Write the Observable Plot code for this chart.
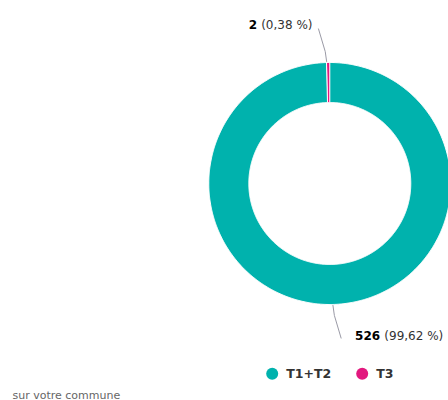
<!DOCTYPE html>
<html>
<head>
<meta charset="utf-8">
<script src="https://cdn.jsdelivr.net/npm/d3@7"></script>
<script src="https://cdn.jsdelivr.net/npm/@observablehq/plot@0.6"></script>
<style>
  html, body { margin: 0; padding: 0; background: #fff; }
  #chart { width: 448px; height: 400px; overflow: hidden; }
</style>
</head>
<body>
<div id="chart"></div>
<script>
// ---- data ----
const categories = ["T1+T2", "T3"];
const counts = [526, 2];
const percentLabels = ["99,62 %", "0,38 %"];
const colors = ["#00B2AD", "#E2187E"];
const captionText = "sur votre commune";

// ---- layout ----
const W = 448, H = 400;
const cx = 329.3, cy = 183, R = 121, R0 = 81;
const deg = Math.PI / 180;
const polar = (a, r) => ({x: cx + r * Math.sin(a), y: cy - r * Math.cos(a)});

const rows = categories.map((c, i) => ({cat: c, count: counts[i], pct: percentLabels[i]}));
const arcs = d3.pie().sort(null).value(d => d.count).startAngle(0).endAngle(2 * Math.PI)(rows);

// polygon points for each slice (outer arc, then inner arc back)
const ringPoints = [];
for (const a of arcs) {
  const n = Math.max(2, Math.ceil((a.endAngle - a.startAngle) / (0.5 * deg)));
  for (let k = 0; k <= n; k++) {
    const t = a.startAngle + (a.endAngle - a.startAngle) * k / n;
    ringPoints.push({...polar(t, R), cat: a.data.cat});
  }
  for (let k = n; k >= 0; k--) {
    const t = a.startAngle + (a.endAngle - a.startAngle) * k / n;
    ringPoints.push({...polar(t, R0), cat: a.data.cat});
  }
}

// leader lines and labels
const leaderPoints = [];
const labelRows = [];
arcs.forEach((a, i) => {
  const mid = (a.startAngle + a.endAngle) / 2;
  const p0 = polar(mid - 0.8 * deg, R + 1);
  const p1 = polar(mid - 1.3 * deg, R + 11);
  const p2 = polar(mid - 3.5 * deg, R + 34);
  [p0, p1, p2].forEach(p => leaderPoints.push({...p, id: i}));
  const top = Math.cos(mid) > 0;
  labelRows.push({
    top,
    x: top ? p2.x - 6 : p2.x + 14,
    y: top ? p2.y : p2.y + 1.7,
    text: `${a.data.count} (${a.data.pct})`
  });
});

const legendRows = categories.map((c, i) => ({cat: c, x: 271.7 + i * 90, y: 373.3}));

const plot = Plot.plot({
  width: W,
  height: H,
  margin: 0,
  x: {type: "identity", axis: null},
  y: {type: "identity", axis: null},
  color: {domain: categories, range: colors},
  style: {background: "white", fontFamily: "DejaVu Sans", overflow: "visible"},
  marks: [
    Plot.line(ringPoints, {x: "x", y: "y", z: "cat", fill: "cat", stroke: "white", strokeWidth: 1, curve: "linear-closed"}),
    Plot.line(leaderPoints, {x: "x", y: "y", z: "id", stroke: "#9a9aa6", strokeWidth: 1}),
    Plot.text(labelRows.filter(d => d.top), {x: "x", y: "y", text: "text", textAnchor: "end", lineAnchor: "bottom", fontSize: 12, fill: "#333"}),
    Plot.text(labelRows.filter(d => !d.top), {x: "x", y: "y", text: "text", textAnchor: "start", lineAnchor: "bottom", fontSize: 12, fill: "#333"}),
    Plot.dot(legendRows, {x: "x", y: "y", r: 6, fill: "cat"}),
    Plot.text(legendRows, {x: d => d.x + 14, y: "y", text: "cat", textAnchor: "start", lineAnchor: "middle", fontSize: 12.5, fontWeight: "bold", fill: "#333"}),
    Plot.text([captionText], {frameAnchor: "bottom-left", dx: 12, dy: -2, text: d => d, textAnchor: "start", lineAnchor: "bottom", fontSize: 11, fill: "#666"})
  ]
});

// bold number + regular percentage
plot.querySelectorAll("text").forEach(t => {
  const m = /^(\d+) (\(.*\))$/.exec(t.textContent);
  if (!m) return;
  t.textContent = "";
  const ns = "http://www.w3.org/2000/svg";
  const a = document.createElementNS(ns, "tspan");
  a.setAttribute("font-weight", "bold");
  a.setAttribute("fill", "#000");
  a.textContent = m[1] + " ";
  const b = document.createElementNS(ns, "tspan");
  b.textContent = m[2];
  t.appendChild(a);
  t.appendChild(b);
});

document.getElementById("chart").appendChild(plot);
</script>
</body>
</html>
